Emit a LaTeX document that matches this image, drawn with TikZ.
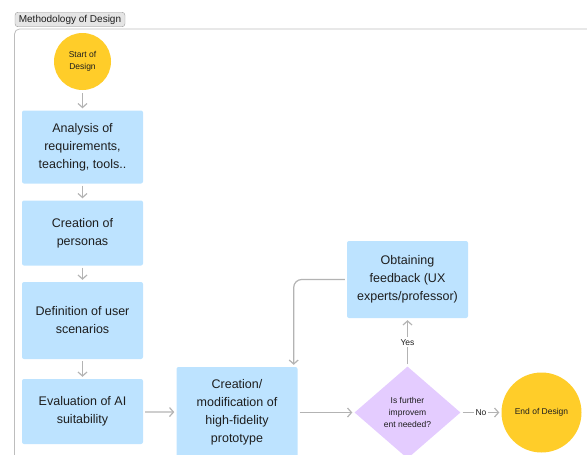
\documentclass[tikz,border=0pt]{standalone}
\usepackage{fontspec}
\setmainfont{Liberation Sans}
\usepackage{tikz}
\usetikzlibrary{arrows.meta,calc,positioning,shapes.geometric}
\definecolor{boxblue}{HTML}{BDE3FF}
\definecolor{sunyellow}{HTML}{FFCD29}
\definecolor{lilac}{HTML}{E4CCFF}
\definecolor{linegray}{HTML}{B3B3B3}
\definecolor{framegray}{HTML}{BDBDBD}
\definecolor{inkgray}{HTML}{1E1E1E}
\tikzset{%
	process/.style  = {rectangle, fill=boxblue, rounded corners=2pt, minimum width=121pt, inner sep=0pt, align=center, text=inkgray, font=\fontsize{12.5}{18}\selectfont},
	terminal/.style = {circle, fill=sunyellow, inner sep=0pt, align=center, text=inkgray, font=\fontsize{8.5}{12}\selectfont},
	decision/.style = {diamond, fill=lilac, minimum width=106pt, minimum height=92pt, inner sep=0pt, align=center, text=inkgray, font=\fontsize{8.5}{12}\selectfont},
	frametitle/.style = {draw=black!40, fill=black!10, rounded corners=3pt, minimum width=110pt, minimum height=14.5pt, inner sep=0pt, text=inkgray, font=\fontsize{10}{12}\selectfont},
	arrowtext/.style  = {fill=white, inner sep=2pt, text=inkgray, font=\fontsize{8.5}{10}\selectfont},
	arrow/.style    = {draw=linegray, line width=1.2pt, ->, >={Straight Barb[length=4pt,width=9pt]}, shorten <=2pt, shorten >=2pt},
}

\begin{document}
\begin{tikzpicture}[x=1pt, y=-1pt, node distance=86pt]
	\useasboundingbox (0,0) rectangle (587,455);
	% frame and its title
	\draw[framegray, line width=0.8pt, rounded corners=5pt] (14.5,480) |- (620,29);
	\node[frametitle] (title) at (70,19.5) {Methodology of Design};
	% left column
	\node[terminal, minimum size=57pt] (start) at (82.5,61.5) {Start of\\Design};
	\node[process, minimum height=73pt, below of=start, node distance=85.5pt] (req) {Analysis of\\requirements,\\teaching, tools..};
	\node[process, minimum height=65pt, below of=req] (pers) {Creation of\\personas};
	\node[process, minimum height=77pt, below of=pers, node distance=87.5pt] (scen) {Definition of user\\scenarios};
	\node[process, minimum height=65pt, below of=scen, node distance=91pt] (ai) {Evaluation of AI\\suitability};
	% bottom row
	\node[process, minimum height=91pt, right of=ai, node distance=154.5pt, yshift=-1pt] (proto) {Creation/\\modification of\\high-fidelity\\prototype};
	\node[decision, right of=proto, node distance=170.5pt] (check) {Is further\\improvem\\ent needed?};
	\node[terminal, minimum size=80pt, right of=check, node distance=134pt] (finish) {End of Design};
	\node[process, minimum height=77pt, above of=check, node distance=133pt] (fb) {Obtaining\\feedback (UX\\experts/professor)};
	\draw[arrow, shorten <=3pt] (start) -- (req);
	\draw[arrow] (req) -- (pers);
	\draw[arrow] (pers) -- (scen);
	\draw[arrow] (scen) -- (ai);
	\draw[arrow] (ai) -- (proto);
	\draw[arrow] (proto) -- (check);
	\draw[arrow] (check) -- node[arrowtext] {Yes} (fb);
	\draw[arrow] (check) -- node[arrowtext] {No} (finish);
	\draw[arrow, rounded corners=8pt] (fb.west) -| ([xshift=-4pt]proto.north east);
\end{tikzpicture}
\end{document}
